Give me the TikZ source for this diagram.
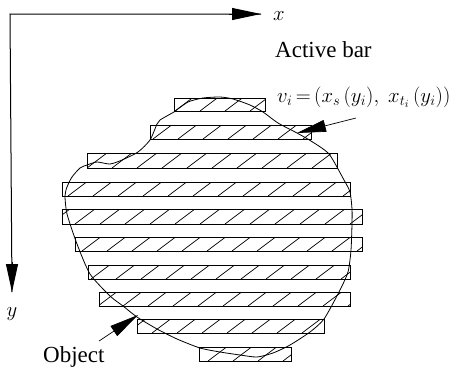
\documentclass[tikz,border=0pt]{standalone}
\usepackage{fontspec}
\setmainfont{Liberation Serif}
\usetikzlibrary{arrows.meta}
\tikzset{
  barbox/.style={draw=black,line width=1pt},
  hatchline/.style={black,line width=0.7pt},
  outline/.style={black,line width=0.8pt,line join=round},
  axisline/.style={black,line width=1pt},
  bigtip/.style={-{Triangle[length=#1,width=12pt]}},
  lbl/.style={inner sep=0pt,font=\fontsize{23}{26}\selectfont,text=black},
  mathlbl/.style={inner sep=0pt,font=\fontsize{22.5}{26}\selectfont,text=black}
}
\newcommand{\hatchbar}[5]{% left,right,top,bottom,first bottom x
  \begin{scope}
    \clip (#1,#3) rectangle (#2,#4);
    \pgfmathsetmacro{\hh}{(#4-#3)}
    \foreach \k in {-2,...,13}{
      \draw[hatchline] ({#5+25*\k},#4) -- ++({\hh*1.33},-\hh);
    }
  \end{scope}
  \draw[barbox] (#1,#3) rectangle (#2,#4);
}
\begin{document}
\begin{tikzpicture}[x=1pt,y=-1pt]
\useasboundingbox (0,0) rectangle (459,368);
\fill[white] (0,0) rectangle (459,368);
\hatchbar{174}{265}{98}{111}{175}
\hatchbar{150}{311}{125}{139}{153}
\hatchbar{87}{337}{153}{168}{112}
\hatchbar{62}{350}{182}{196}{68}
\hatchbar{62}{362}{209}{224}{75}
\hatchbar{75}{362}{237}{251}{82}
\hatchbar{88}{350}{265}{279}{91}
\hatchbar{99}{350}{292}{306}{98}
\hatchbar{137}{324}{319}{333}{152}
\hatchbar{199}{291}{347}{361}{208}
\draw[outline] plot[smooth,tension=0.4] coordinates {
 (174,112) (188,102) (203,98) (220,97) (233,99) (250,105) (263,112) (278,123) (297,133) (311,141) (329,154)
 (344,180) (350,192) (352,209) (352,224) (351,250) (348,272) (339,292) (324,319) (310,332) (290,345)
 (273,353) (257,357) (240,355) (220,352) (200,348) (177,339) (157,329) (137,317) (123,306) (110,296)
 (90,274) (77,244) (67,214) (65,196) (67,187) (72,177) (80,168) (87,165) (97,162) (110,164) (122,160)
 (138,152) (150,140) (157,124) (160,120) (174,112)};
\coordinate (origin) at (10,14);
\coordinate (xend) at (261,14);
\coordinate (yend) at (12,292);
\draw[axisline] (xend) -- (origin) -- (yend);
\draw[axisline,bigtip=29pt] (229,14) -- (xend);
\draw[axisline,bigtip=28pt] (12,262) -- (yend);
\node[mathlbl,anchor=base west] (xlab) at (273,20) {$x$};
\node[mathlbl,anchor=base] (ylab) at (12,316) {$y$};
\node[lbl,anchor=base west] (active) at (275,57) {Active bar};
\node[mathlbl,anchor=base west] (vlab) at (277,102) {$v_i\,{=}\,(x_s\,(y_i),\ x_{t_i}\,(y_i))$};
\node[lbl,anchor=base west] (objlab) at (43,362) {Object};
\coordinate (vs) at (356,118);
\coordinate (vt) at (297,133);
\coordinate (os) at (99,341);
\coordinate (ot) at (138,315);
\draw[hatchline,bigtip=29pt] (vs) -- (vt);
\draw[hatchline,bigtip=29pt] (os) -- (ot);
\end{tikzpicture}
\end{document}
